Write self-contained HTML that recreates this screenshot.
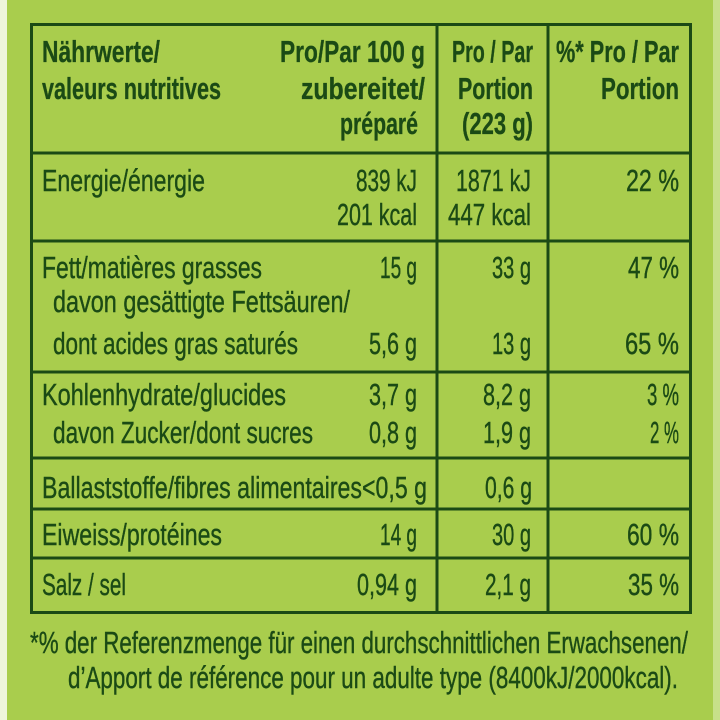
<!DOCTYPE html>
<html><head><meta charset="utf-8"><style>
html,body{margin:0;padding:0;background:#a9cd4d;}
svg{display:block;}
text{font-family:"Liberation Sans",sans-serif;fill:#1b4a15;font-size:31px;stroke:#1b4a15;stroke-width:0.4px;}
.b{font-weight:bold;stroke-width:0.3px;}
</style></head><body>
<svg width="720" height="720" viewBox="0 0 720 720">
<rect x="0" y="0" width="720" height="720" fill="#a9cd4d"/>
<rect x="0" y="0" width="7" height="720" fill="#eef5dc"/>
<rect x="713" y="0" width="7" height="720" fill="#c7e08a"/>
<g stroke="#1b4a15" stroke-width="3" fill="none">
<rect x="31.5" y="24.5" width="659" height="588"/>
<line x1="437" y1="24" x2="437" y2="612"/>
<line x1="548" y1="24" x2="548" y2="612"/>
<line x1="31" y1="153" x2="691" y2="153"/>
<line x1="31" y1="241" x2="691" y2="241"/>
<line x1="31" y1="372" x2="691" y2="372"/>
<line x1="31" y1="458" x2="691" y2="458"/>
<line x1="31" y1="509" x2="691" y2="509"/>
<line x1="31" y1="558" x2="691" y2="558"/>
</g>
<g>
<text class="b" x="42" y="62" textLength="118" lengthAdjust="spacingAndGlyphs">Nährwerte/</text>
<text class="b" x="42" y="99" textLength="179" lengthAdjust="spacingAndGlyphs">valeurs nutritives</text>
<text class="b" x="280" y="62" textLength="145" lengthAdjust="spacingAndGlyphs">Pro/Par 100 g</text>
<text class="b" x="301" y="99" textLength="124" lengthAdjust="spacingAndGlyphs">zubereitet/</text>
<text class="b" x="340" y="134" textLength="78" lengthAdjust="spacingAndGlyphs">préparé</text>
<text class="b" x="452" y="62" textLength="81" lengthAdjust="spacingAndGlyphs">Pro / Par</text>
<text class="b" x="458" y="99" textLength="75" lengthAdjust="spacingAndGlyphs">Portion</text>
<text class="b" x="462" y="134" textLength="71" lengthAdjust="spacingAndGlyphs">(223 g)</text>
<text class="b" x="556" y="62" textLength="123" lengthAdjust="spacingAndGlyphs">%* Pro / Par</text>
<text class="b" x="601" y="99" textLength="78" lengthAdjust="spacingAndGlyphs">Portion</text>
</g>
<g>
<text x="42" y="191" textLength="163" lengthAdjust="spacingAndGlyphs">Energie/énergie</text>
<text x="356" y="191" textLength="61" lengthAdjust="spacingAndGlyphs">839 kJ</text>
<text x="337" y="225" textLength="80" lengthAdjust="spacingAndGlyphs">201 kcal</text>
<text x="456" y="191" textLength="75" lengthAdjust="spacingAndGlyphs">1871 kJ</text>
<text x="448" y="225" textLength="83" lengthAdjust="spacingAndGlyphs">447 kcal</text>
<text x="626" y="191" textLength="53" lengthAdjust="spacingAndGlyphs">22 %</text>
</g>
<g>
<text x="42" y="278" textLength="220" lengthAdjust="spacingAndGlyphs">Fett/matières grasses</text>
<text x="380" y="278" textLength="37" lengthAdjust="spacingAndGlyphs">15 g</text>
<text x="492" y="278" textLength="39" lengthAdjust="spacingAndGlyphs">33 g</text>
<text x="628" y="278" textLength="51" lengthAdjust="spacingAndGlyphs">47 %</text>
<text x="53" y="312" textLength="297" lengthAdjust="spacingAndGlyphs">davon gesättigte Fettsäuren/</text>
<text x="53" y="354" textLength="245" lengthAdjust="spacingAndGlyphs">dont acides gras saturés</text>
<text x="369" y="354" textLength="48" lengthAdjust="spacingAndGlyphs">5,6 g</text>
<text x="492" y="354" textLength="39" lengthAdjust="spacingAndGlyphs">13 g</text>
<text x="625" y="354" textLength="54" lengthAdjust="spacingAndGlyphs">65 %</text>
</g>
<g>
<text x="42" y="405" textLength="244" lengthAdjust="spacingAndGlyphs">Kohlenhydrate/glucides</text>
<text x="369" y="405" textLength="48" lengthAdjust="spacingAndGlyphs">3,7 g</text>
<text x="483" y="405" textLength="48" lengthAdjust="spacingAndGlyphs">8,2 g</text>
<text x="647" y="405" textLength="32" lengthAdjust="spacingAndGlyphs">3 %</text>
<text x="53" y="443" textLength="260" lengthAdjust="spacingAndGlyphs">davon Zucker/dont sucres</text>
<text x="369" y="443" textLength="48" lengthAdjust="spacingAndGlyphs">0,8 g</text>
<text x="483" y="443" textLength="48" lengthAdjust="spacingAndGlyphs">1,9 g</text>
<text x="650" y="443" textLength="29" lengthAdjust="spacingAndGlyphs">2 %</text>
</g>
<g>
<text x="42" y="498" textLength="385" lengthAdjust="spacingAndGlyphs">Ballaststoffe/fibres alimentaires&lt;0,5 g</text>
<text x="485" y="498" textLength="47" lengthAdjust="spacingAndGlyphs">0,6 g</text>
</g>
<g>
<text x="42" y="545" textLength="180" lengthAdjust="spacingAndGlyphs">Eiweiss/protéines</text>
<text x="380" y="545" textLength="37" lengthAdjust="spacingAndGlyphs">14 g</text>
<text x="492" y="545" textLength="39" lengthAdjust="spacingAndGlyphs">30 g</text>
<text x="627" y="545" textLength="52" lengthAdjust="spacingAndGlyphs">60 %</text>
</g>
<g>
<text x="42" y="595" textLength="84" lengthAdjust="spacingAndGlyphs">Salz / sel</text>
<text x="357" y="595" textLength="60" lengthAdjust="spacingAndGlyphs">0,94 g</text>
<text x="485" y="595" textLength="46" lengthAdjust="spacingAndGlyphs">2,1 g</text>
<text x="628" y="595" textLength="51" lengthAdjust="spacingAndGlyphs">35 %</text>
</g>
<g>
<text x="30" y="653" textLength="658" lengthAdjust="spacingAndGlyphs">*% der Referenzmenge für einen durchschnittlichen Erwachsenen/</text>
<text x="68" y="688" textLength="610" lengthAdjust="spacingAndGlyphs">d’Apport de référence pour un adulte type (8400kJ/2000kcal).</text>
</g>
</svg>
</body></html>
